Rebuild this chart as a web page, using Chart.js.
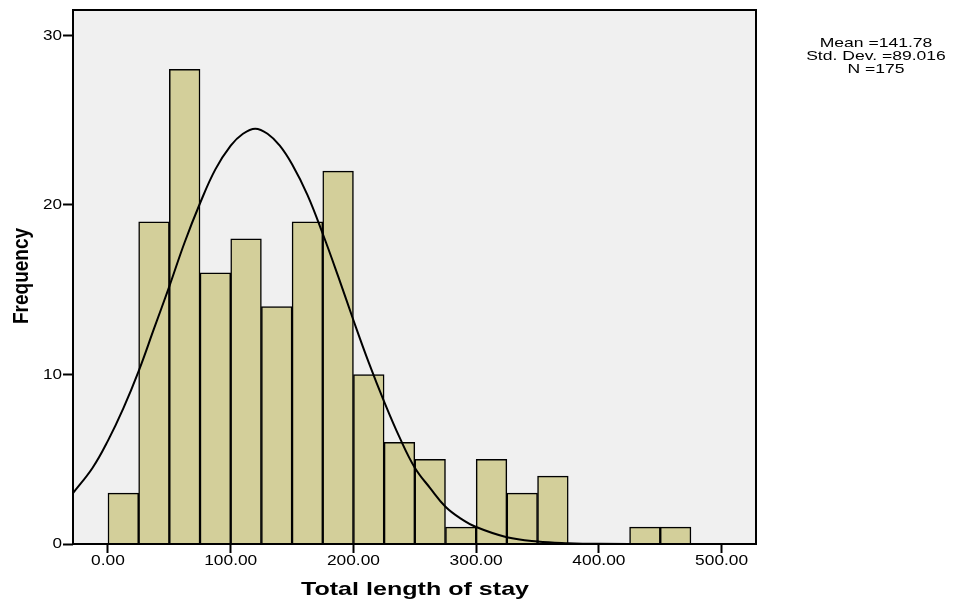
<!DOCTYPE html>
<html lang="en">
<head>
    <meta charset="UTF-8">
    <title>Total length of stay</title>
    <script src="https://cdn.jsdelivr.net/npm/chart.js"></script>
    <style>
        body { margin: 0; background: white; }
        .grafica { width: 953px; height: 604px; }
    </style>
</head>
<body>
    <div class="grafica">
        <canvas id="myChart" width="953" height="604"></canvas>
    </div>
    <script>
        const binCenters = [12.5, 37.5, 62.5, 87.5, 112.5, 137.5, 162.5, 187.5, 212.5, 237.5,
            262.5, 287.5, 312.5, 337.5, 362.5, 387.5, 412.5, 437.5, 462.5];
        const frequencies = [3, 19, 28, 16, 18, 14, 19, 22, 10, 6, 5, 1, 5, 3, 4, 0, 0, 1, 1];

        // curva normal, puntos estimados de la imagen
        const curveX = [-28.5, -12.5, 0, 12.5, 25, 37.5, 50, 62.5, 75, 87.5, 100, 110, 120, 130, 140, 150, 162.5, 175,
            187.5, 200, 212.5, 225, 237.5, 250, 262.5, 275, 287.5, 300, 325, 350, 375, 400, 450, 528];
        const curveY = [3.0, 4.5, 6.1, 8.0, 10.2, 12.7, 15.2, 17.8, 20.1, 22.1, 23.5, 24.2, 24.5, 24.2, 23.5, 22.4, 20.6, 18.3,
            15.8, 13.2, 10.7, 8.4, 6.3, 4.5, 3.3, 2.2, 1.5, 1.0, 0.4, 0.15, 0.05, 0.01, 0, 0];

        const xTicks = [0, 100, 200, 300, 400, 500];
        const yTicks = [0, 10, 20, 30];
        const statsLines = ['Mean =141.78', 'Std. Dev. =89.016', 'N =175'];
        const xTitle = 'Total length of stay';
        const yTitle = 'Frequency';

        const FONT = '"Liberation Sans", Arial, sans-serif';

        // texto ensanchado como en SPSS
        function wideText(ctx, text, x, y, font, sx, align) {
            ctx.save();
            ctx.font = font;
            ctx.textAlign = align || 'center';
            ctx.textBaseline = 'middle';
            ctx.translate(x, y);
            ctx.scale(sx, 1);
            ctx.fillText(text, 0, 0);
            ctx.restore();
        }

        const fondo = {
            id: 'fondo',
            beforeDatasetsDraw(chart) {
                const { ctx, chartArea: a } = chart;
                ctx.save();
                ctx.fillStyle = '#f0f0f0';
                ctx.fillRect(a.left, a.top, a.right - a.left, a.bottom - a.top);
                ctx.restore();
            },
            afterDraw(chart) {
                const { ctx, chartArea: a, scales } = chart;
                ctx.save();
                ctx.strokeStyle = '#000';
                ctx.lineWidth = 2;
                ctx.strokeRect(a.left, a.top, a.right - a.left, a.bottom - a.top);
                ctx.fillStyle = '#000';

                xTicks.forEach(v => {
                    wideText(ctx, v.toFixed(2), scales.x.getPixelForValue(v), 561, '14px ' + FONT, 1.24);
                });
                yTicks.forEach(v => {
                    wideText(ctx, String(v), 62, scales.y.getPixelForValue(v), '15px ' + FONT, 1.14, 'right');
                });

                wideText(ctx, xTitle, 415, 590, 'bold 19px ' + FONT, 1.32);

                ctx.save();
                ctx.translate(22, 276);
                ctx.scale(1.15, 1);
                ctx.rotate(-Math.PI / 2);
                ctx.font = 'bold 19px ' + FONT;
                ctx.textAlign = 'center';
                ctx.textBaseline = 'middle';
                ctx.fillText(yTitle, 0, 0);
                ctx.restore();

                statsLines.forEach((t, i) => {
                    wideText(ctx, t, 876, 43 + i * 13, '13px ' + FONT, 1.35);
                });
                ctx.restore();
            }
        };

        const config = {
            data: {
                datasets: [
                    {
                        type: 'line',
                        data: curveX.map((x, i) => ({ x, y: curveY[i] })),
                        borderColor: '#000',
                        borderWidth: 2,
                        pointRadius: 0,
                        tension: 0.4,
                        fill: false,
                        order: 0
                    },
                    {
                        type: 'bar',
                        data: binCenters.map((x, i) => ({ x, y: frequencies[i] })),
                        backgroundColor: '#d3cf9a',
                        borderColor: '#000',
                        borderWidth: 1.5,
                        barPercentage: 1,
                        categoryPercentage: 1,
                        order: 1
                    }
                ]
            },
            options: {
                responsive: false,
                animation: false,
                layout: { padding: { top: 10, right: 197, left: 0, bottom: 0 } },
                plugins: { legend: { display: false }, tooltip: { enabled: false } },
                scales: {
                    x: {
                        type: 'linear',
                        offset: false,
                        min: -28.5,
                        max: 528,
                        afterFit(scale) { scale.height = 60; },
                        afterBuildTicks(scale) { scale.ticks = xTicks.map(v => ({ value: v })); },
                        grid: { display: true, offset: false, drawOnChartArea: false, drawTicks: true, tickLength: 9, tickColor: '#000', tickWidth: 2 },
                        border: { display: false },
                        ticks: { display: false }
                    },
                    y: {
                        min: 0,
                        max: 31.5,
                        afterFit(scale) { scale.width = 73; },
                        afterBuildTicks(scale) { scale.ticks = yTicks.map(v => ({ value: v })); },
                        grid: { display: true, offset: false, drawOnChartArea: false, drawTicks: true, tickLength: 10, tickColor: '#000', tickWidth: 2 },
                        border: { display: false },
                        ticks: { display: false }
                    }
                }
            },
            plugins: [fondo]
        };

        new Chart(document.getElementById('myChart'), config);
    </script>
</body>
</html>
